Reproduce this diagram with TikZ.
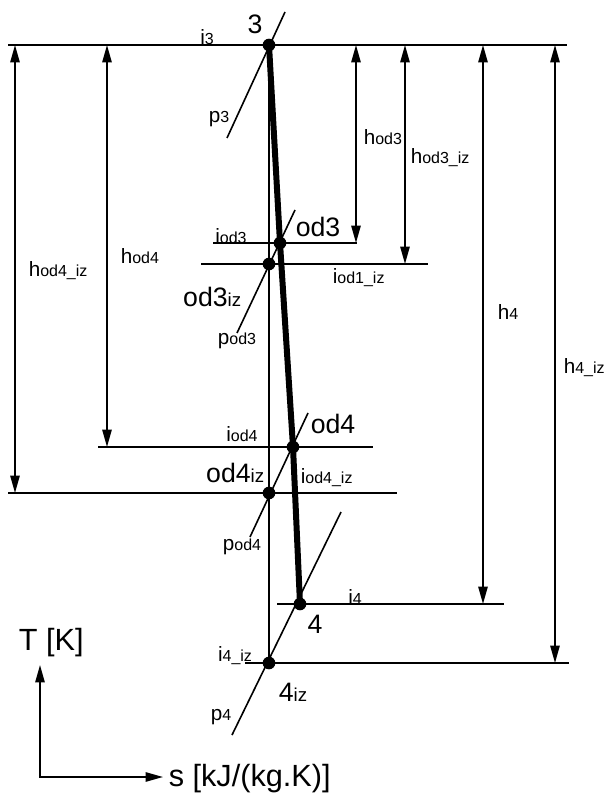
\documentclass[tikz,border=0pt]{standalone}
\usepackage{fontspec}
\setmainfont{Liberation Sans}
\usetikzlibrary{arrows.meta}
\newcommand{\subtxt}[1]{{\fontsize{12}{12}\selectfont #1}}
\newcommand{\subbig}[1]{{\fontsize{14}{14}\selectfont #1}}

\begin{document}
\begin{tikzpicture}[x=0.75pt, y=-0.75pt, line width=1.2pt,
		>={Triangle[length=13pt,width=7pt]},
		lbl/.style={inner sep=0pt, font=\fontsize{15.5}{16}\selectfont},
		big/.style={inner sep=0pt, font=\fontsize{20}{20}\selectfont},
		ax/.style={inner sep=0pt, font=\fontsize{23}{23}\selectfont},
		dot/.style={circle, fill=black, inner sep=0pt, minimum size=9.5pt}]
	\useasboundingbox (0,0) rectangle (605,798);
	
	% stanja
	\coordinate (s3) at (269,45);
	\coordinate (sod3) at (280,243);
	\coordinate (sod3iz) at (269,264);
	\coordinate (sod4) at (293,447);
	\coordinate (sod4iz) at (269,493);
	\coordinate (s4) at (300,604);
	\coordinate (s4iz) at (269,663);
	
	% izentalpe
	\draw (8,45) -- (567,45);
	\draw (213,243) -- (357,243);
	\draw (201,264) -- (428,264);
	\draw (98,447) -- (373,447);
	\draw (8,493) -- (397,493);
	\draw (277,604) -- (504,604);
	\draw (245,663) -- (569,663);
	
	% izobare
	\draw (285,12) -- (227,138);
	\draw (295,210) -- (237,333);
	\draw (308,413) -- (250,537);
	\draw (341,512) -- (232,735);
	
	% izentropa i ekspanzija
	\draw (s3) -- (s4iz);
	\draw[line width=4.5pt] (s3) -- (sod3) -- (sod4) -- (s4);
	
	% razlike entalpija
	\draw[<->] (15,45) -- (15,493);
	\draw[<->] (107,45) -- (107,447);
	\draw[<->] (356,45) -- (356,243);
	\draw[<->] (405,45) -- (405,264);
	\draw[<->] (483,45) -- (483,604);
	\draw[<->] (555,45) -- (555,663);
	
	% T-s osi
	\draw[<->] (40,665) -- (40,777) -- (163,777);
	\node[ax, anchor=west] (osT) at (18,643) {T [K]};
	\node[ax, anchor=west] (osS) at (168,779) {s [kJ/(kg.K)]};
	
	% tocke
	\foreach \p in {s3, sod3, sod3iz, sod4, sod4iz, s4, s4iz}
		\node[dot] (d\p) at (\p) {};
	
	\node[big] (n3) at (255,24) {3};
	\node[big, anchor=west] (nod3) at (295,227) {od3};
	\node[big, anchor=east] (nod3iz) at (242,297) {od3\subbig{iz}};
	\node[big, anchor=west] (nod4) at (310,424) {od4};
	\node[big, anchor=east] (nod4iz) at (265,473) {od4\subbig{iz}};
	\node[big] (n4) at (315,624) {4};
	\node[big, anchor=west] (n4iz) at (278,692) {4\subbig{iz}};
	
	% oznake
	\node[lbl] (li3) at (207,37) {i\subtxt{3}};
	\node[lbl] (lp3) at (219,119) {p\subtxt{3}};
	\node[lbl] (liod3) at (231,236) {i\subtxt{od3}};
	\node[lbl, anchor=west] (liod1iz) at (332,278) {i\subtxt{od1\_iz}};
	\node[lbl] (lpod3) at (237,341) {p\subtxt{od3}};
	\node[lbl] (liod4) at (242,434) {i\subtxt{od4}};
	\node[lbl, anchor=west] (liod4iz) at (300,478) {i\subtxt{od4\_iz}};
	\node[lbl] (lpod4) at (242,547) {p\subtxt{od4}};
	\node[lbl] (li4) at (355,597) {i\subtxt{4}};
	\node[lbl] (li4iz) at (235,656) {i\subtxt{4\_iz}};
	\node[lbl] (lp4) at (221,717) {p\subtxt{4}};
	
	\node[lbl, anchor=west] (lhod4iz) at (28,271) {h\subtxt{od4\_iz}};
	\node[lbl, anchor=west] (lhod4) at (120,256) {h\subtxt{od4}};
	\node[lbl, anchor=west] (lhod3) at (363,137) {h\subtxt{od3}};
	\node[lbl, anchor=west] (lhod3iz) at (410,158) {h\subtxt{od3\_iz}};
	\node[lbl, anchor=west] (lh4) at (497,312) {h\subtxt{4}};
	\node[lbl, anchor=west] (lh4iz) at (563,368) {h\subtxt{4\_iz}};
\end{tikzpicture}
\end{document}
